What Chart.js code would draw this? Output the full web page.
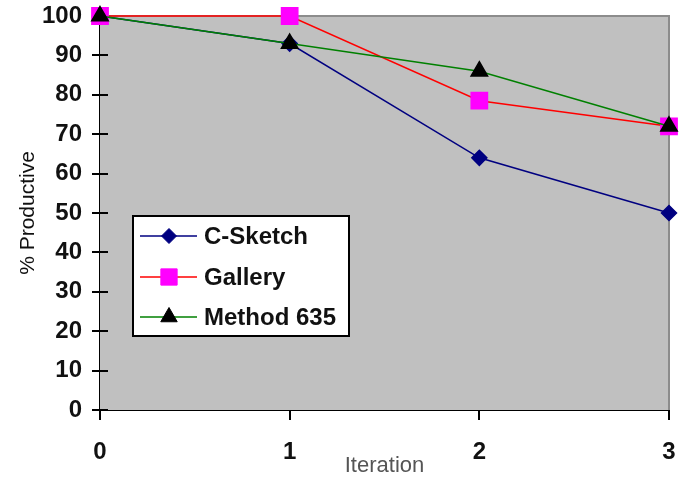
<!DOCTYPE html>
<html>
<head>
<meta charset="utf-8">
<script src="https://cdn.jsdelivr.net/npm/chart.js@4.4.1/dist/chart.umd.min.js"></script>
<style>
  html, body { margin: 0; padding: 0; background: #fff; }
  #wrap { width: 682px; height: 486px; }
</style>
</head>
<body>
<div id="wrap"><canvas id="chart-canvas" width="682" height="486"></canvas></div>
<script>
var iterations = [0, 1, 2, 3];
var cSketch = [100, 93, 64, 50];
var gallery = [100, 100, 78.5, 72];
var method635 = [100, 93, 86, 72];
var yTicks = [0, 10, 20, 30, 40, 50, 60, 70, 80, 90, 100];

function toPoints(values) {
    return iterations.map(function(x, i) { return { x: x, y: values[i] }; });
}

var plotBackground = {
    id: 'plotBackground',
    beforeDatasetsDraw: function(chart) {
        var ctx = chart.ctx, a = chart.chartArea;
        ctx.save();
        ctx.fillStyle = '#c0c0c0';
        ctx.fillRect(a.left, a.top, a.right - a.left, a.bottom - a.top);
        ctx.strokeStyle = '#8c8c8c';
        ctx.lineWidth = 2;
        ctx.beginPath();
        ctx.moveTo(a.left, a.top);
        ctx.lineTo(a.right, a.top);
        ctx.lineTo(a.right, a.bottom);
        ctx.stroke();
        // inner half of the y tick marks
        var y = chart.scales.y;
        ctx.strokeStyle = '#000';
        ctx.lineWidth = 2;
        yTicks.forEach(function(v) {
            var py = Math.round(y.getPixelForValue(v));
            ctx.beginPath();
            ctx.moveTo(a.left, py);
            ctx.lineTo(a.left + 8, py);
            ctx.stroke();
        });
        ctx.restore();
    }
};

var boxLegend = {
    id: 'boxLegend',
    afterDraw: function(chart) {
        var ctx = chart.ctx;
        ctx.save();
        ctx.fillStyle = '#fff';
        ctx.fillRect(133, 216, 216, 120);
        ctx.strokeStyle = '#000';
        ctx.lineWidth = 2;
        ctx.strokeRect(133, 216, 216, 120);
        var rows = [236, 277, 317];
        chart.data.datasets.forEach(function(ds, i) {
            var ry = rows[i];
            ctx.strokeStyle = ds.borderColor;
            ctx.lineWidth = ds.borderWidth;
            ctx.beginPath();
            ctx.moveTo(140, ry);
            ctx.lineTo(197, ry);
            ctx.stroke();
            ctx.fillStyle = ds.pointBackgroundColor;
            ctx.strokeStyle = ds.pointBorderColor;
            ctx.lineWidth = 1;
            Chart.helpers.drawPoint(ctx, {
                pointStyle: ds.pointStyle,
                radius: ds.pointRadius,
                borderWidth: 1,
                rotation: 0
            }, 169, ry);
            ctx.fillStyle = '#111';
            ctx.font = 'bold 24px "Liberation Sans", Arial, sans-serif';
            ctx.textBaseline = 'middle';
            ctx.textAlign = 'left';
            ctx.fillText(ds.label, 204, ry + 1);
        });
        ctx.restore();
    }
};

window.onload = function() {
    var ctx = document.getElementById('chart-canvas').getContext('2d');
    window.myLine = new Chart(ctx, {
        type: 'line',
        data: {
            datasets: [{
                label: 'C-Sketch',
                data: toPoints(cSketch),
                borderColor: '#000080',
                borderWidth: 1.5,
                pointStyle: 'rectRot',
                pointRadius: 7.5,
                pointBackgroundColor: '#000080',
                pointBorderColor: '#000080',
                order: 3,
                clip: false
            }, {
                label: 'Gallery',
                data: toPoints(gallery),
                borderColor: '#ff0000',
                borderWidth: 1.5,
                pointStyle: 'rect',
                pointRadius: 11.5,
                pointBackgroundColor: '#ff00ff',
                pointBorderColor: '#ff00ff',
                order: 2,
                clip: false
            }, {
                label: 'Method 635',
                data: toPoints(method635),
                borderColor: '#008000',
                borderWidth: 1.5,
                pointStyle: 'triangle',
                pointRadius: 9.5,
                pointBackgroundColor: '#000000',
                pointBorderColor: '#000000',
                order: 1,
                clip: false
            }]
        },
        options: {
            responsive: false,
            animation: false,
            layout: { padding: { top: 16, right: 12, left: 0, bottom: 0 } },
            plugins: {
                legend: { display: false },
                tooltip: { enabled: false }
            },
            scales: {
                x: {
                    type: 'linear',
                    min: 0,
                    max: 3,
                    afterFit: function(scale) {
                        scale.height = 76;
                        scale.paddingLeft = 0;
                        scale.paddingRight = 0;
                    },
                    ticks: {
                        stepSize: 1,
                        padding: 18,
                        color: '#111',
                        font: { family: '"Liberation Sans", Arial, sans-serif', size: 24, weight: 'bold' }
                    },
                    grid: { drawOnChartArea: false, color: '#000', lineWidth: 2, tickLength: 10 },
                    border: { color: '#000', width: 2 },
                    title: {
                        display: true,
                        text: 'Iteration',
                        color: '#555',
                        padding: { top: 0, bottom: 7 },
                        font: { family: '"Liberation Sans", Arial, sans-serif', size: 22 }
                    }
                },
                y: {
                    min: 0,
                    max: 100,
                    afterFit: function(scale) {
                        scale.width = 100;
                        scale.paddingTop = 0;
                        scale.paddingBottom = 0;
                    },
                    afterBuildTicks: function(scale) {
                        scale.ticks = yTicks.map(function(v) { return { value: v }; });
                    },
                    ticks: {
                        padding: 10,
                        color: '#111',
                        font: { family: '"Liberation Sans", Arial, sans-serif', size: 24, weight: 'bold' }
                    },
                    grid: { drawOnChartArea: false, color: '#000', lineWidth: 2, tickLength: 8 },
                    border: { color: '#000', width: 2 },
                    title: {
                        display: true,
                        text: '% Productive',
                        color: '#111',
                        padding: { top: 16, bottom: 0 },
                        font: { family: '"Liberation Sans", Arial, sans-serif', size: 21 }
                    }
                }
            }
        },
        plugins: [plotBackground, boxLegend]
    });
};
</script>
</body>
</html>
